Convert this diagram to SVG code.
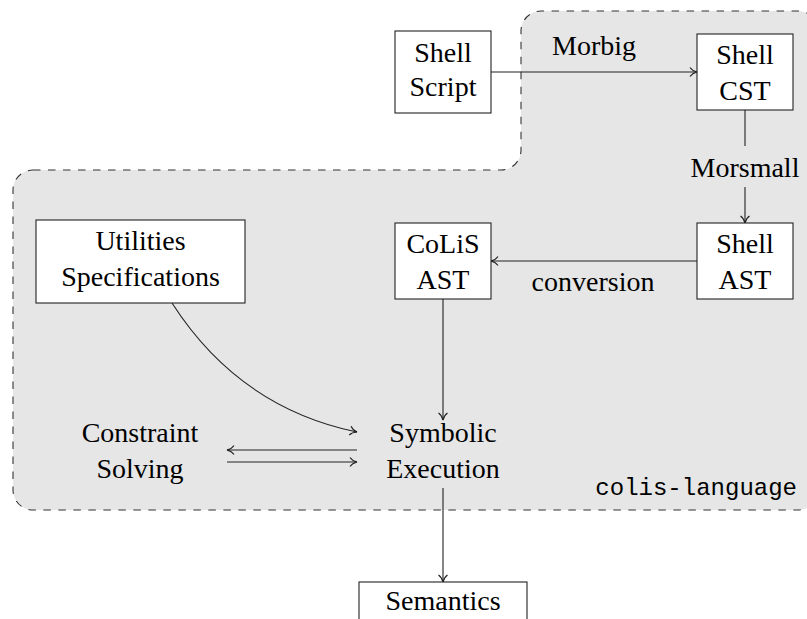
<svg xmlns="http://www.w3.org/2000/svg" width="807" height="619" viewBox="0 0 807 619">
<style>
.box{fill:#fff;stroke:#222;stroke-width:1.1}
.t{font-family:"Liberation Serif","DejaVu Serif",serif;font-size:28px;fill:#000;text-anchor:middle}
.m{font-family:"Liberation Mono","DejaVu Sans Mono",monospace;font-size:24px;fill:#000;text-anchor:end}
.ln{fill:none;stroke:#222;stroke-width:1.1}
</style>
<defs>
<marker id="ar" viewBox="-8 -5 9 10" refX="0" refY="0" markerWidth="9" markerHeight="10" markerUnits="userSpaceOnUse" orient="auto">
<path d="M-7,-4.5 C-5,-1.5 -2,-0.5 0,0 C-2,0.5 -5,1.5 -7,4.5" fill="none" stroke="#222" stroke-width="1.1"/>
</marker>
</defs>
<g id="region">
<path d="M33,170 L501,170 A20,20 0 0 0 521,150 L521,31 A20,20 0 0 1 541,11 L798,11 A20,20 0 0 1 818,31 L818,490 A20,20 0 0 1 798,510 L33,510 A20,20 0 0 1 13,490 L13,190 A20,20 0 0 1 33,170 Z" fill="#e6e6e6" stroke="#333" stroke-width="1.1" stroke-dasharray="7.5 7.5"/>
<text class="m" x="797" y="495">colis-language</text>
</g>
<g id="connectors">
<line class="ln" x1="491" y1="72" x2="697" y2="72" marker-end="url(#ar)"/>
<text class="t" x="594" y="55">Morbig</text>
<line class="ln" x1="745" y1="110" x2="745" y2="146"/>
<line class="ln" x1="745" y1="187" x2="745" y2="223" marker-end="url(#ar)"/>
<text class="t" x="745" y="177">Morsmall</text>
<line class="ln" x1="697" y1="261" x2="491" y2="261" marker-end="url(#ar)"/>
<text class="t" x="593" y="291">conversion</text>
<line class="ln" x1="443" y1="299" x2="443" y2="420" marker-end="url(#ar)"/>
<path class="ln" d="M172,303 C215,370 275,415 357,432" marker-end="url(#ar)"/>
<line class="ln" x1="357" y1="450" x2="227" y2="450" marker-end="url(#ar)"/>
<line class="ln" x1="227" y1="462" x2="357" y2="462" marker-end="url(#ar)"/>
<line class="ln" x1="443" y1="488" x2="443" y2="582" marker-end="url(#ar)"/>
</g>
<g id="shell-script">
<rect class="box" x="395" y="31" width="96" height="82"/>
<text class="t" x="443" y="62">Shell</text>
<text class="t" x="443" y="96">Script</text>
</g>
<g id="shell-cst">
<rect class="box" x="697" y="34" width="96" height="76"/>
<text class="t" x="745" y="64">Shell</text>
<text class="t" x="745" y="100">CST</text>
</g>
<g id="shell-ast">
<rect class="box" x="697" y="223" width="96" height="76"/>
<text class="t" x="745" y="253">Shell</text>
<text class="t" x="745" y="289">AST</text>
</g>
<g id="colis-ast">
<rect class="box" x="395" y="223" width="96" height="76"/>
<text class="t" x="443" y="253">CoLiS</text>
<text class="t" x="443" y="289">AST</text>
</g>
<g id="utilities">
<rect class="box" x="36" y="220" width="209" height="83"/>
<text class="t" x="140.5" y="250">Utilities</text>
<text class="t" x="140.5" y="286">Specifications</text>
</g>
<g id="constraint">
<text class="t" x="140" y="442">Constraint</text>
<text class="t" x="140" y="478">Solving</text>
</g>
<g id="symbolic">
<text class="t" x="443" y="442">Symbolic</text>
<text class="t" x="443" y="478">Execution</text>
</g>
<g id="semantics">
<rect class="box" x="359" y="582" width="168" height="60"/>
<text class="t" x="443" y="610">Semantics</text>
</g>
</svg>
